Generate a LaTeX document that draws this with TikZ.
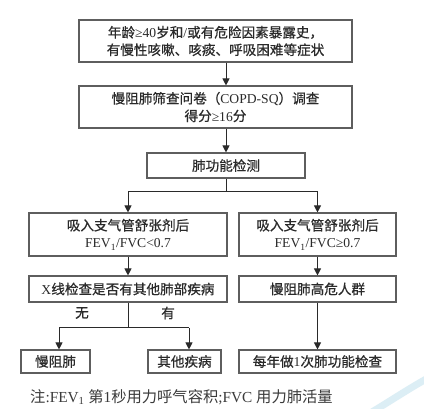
\documentclass[tikz,border=0pt]{standalone}
\usepackage{fontspec}
\setmainfont{Liberation Serif}
\newfontfamily\zhfont[FakeBold=0.6]{Noto Sans CJK SC}
\newfontfamily\zhnote{Noto Sans CJK SC}
\usetikzlibrary{arrows.meta}
\newcommand{\zh}[1]{{\zhfont #1}}
\newcommand{\zn}[1]{{\zhnote #1}}
\definecolor{boxline}{HTML}{5E5E5E}
\definecolor{txt}{HTML}{2A2A2A}
\definecolor{notetxt}{HTML}{3A3A3A}
\definecolor{swoosh}{HTML}{DCEEF5}
\begin{document}
\begin{tikzpicture}[x=1pt,y=-1pt,
  box/.style={draw=boxline, line width=1.1pt, fill=white, inner sep=0pt, align=center,
    text=txt, font=\fontsize{13.6}{17.5}\selectfont},
  conn/.style={draw=txt, line width=1pt},
  arr/.style={conn, -{Triangle[width=7pt,length=7pt]}},
  lbl/.style={text=txt, font=\fontsize{13.6}{15}\selectfont\zhfont, inner sep=0pt}]
\useasboundingbox (0,0) rectangle (424,409);
\fill[white] (0,0) rectangle (424,409);
% faint swoosh
\draw[swoosh, line width=7pt, line cap=round] (372,412) .. controls (395,398) and (410,388) .. (428,378);

\node[box, minimum width=273pt, minimum height=42pt] (b1) at (215.5,41)
  {\zh{年龄}≥40\zh{岁和}/\zh{或有危险因素暴露史，}\\ \zh{有慢性咳嗽、咳痰、呼吸困难等症状}};
\node[box, minimum width=273pt, minimum height=42pt] (b2) at (215.5,107)
  {\zh{慢阻肺筛查问卷（}COPD-SQ\zh{）调查}\\ \zh{得分}≥16\zh{分}};
\node[box, minimum width=158pt, minimum height=25pt] (b3) at (226,165.5)
  {\zh{肺功能检测}};
\node[box, minimum width=198pt, minimum height=43pt] (b4l) at (128,234.5)
  {\zh{吸入支气管舒张剂后}\\ FEV\textsubscript{1}/FVC<0.7};
\node[box, minimum width=157pt, minimum height=43pt] (b4r) at (317.5,234.5)
  {\zh{吸入支气管舒张剂后}\\ FEV\textsubscript{1}/FVC≥0.7};
\node[box, minimum width=198pt, minimum height=26pt] (b5l) at (128,289)
  {X\zh{线检查是否有其他肺部疾病}};
\node[box, minimum width=157pt, minimum height=26pt] (b5r) at (317.5,289)
  {\zh{慢阻肺高危人群}};
\node[box, minimum width=69pt, minimum height=23pt] (b6l) at (55.5,361.5)
  {\zh{慢阻肺}};
\node[box, minimum width=73pt, minimum height=23pt] (b6m) at (184.5,361.5)
  {\zh{其他疾病}};
\node[box, minimum width=157pt, minimum height=23pt] (b6r) at (317.5,361.5)
  {\zh{每年做}1\zh{次肺功能检查}};

\node[lbl] (no) at (82,313) {无};
\node[lbl] (yes) at (168,313) {有};

\node[anchor=west, text=notetxt, inner sep=0pt, font=\fontsize{15.3}{17}\selectfont] (note) at (30,397)
  {\zn{注}:FEV\textsubscript{1} \zn{第}1\zn{秒用力呼气容积};FVC \zn{用力肺活量}};

% connectors
\draw[arr] (b1.south -| b3.north) -- (b2.north -| b3.north);
\draw[arr] (b2.south -| b3.north) -- (b3.north);
\coordinate (s) at (226,192);
\draw[conn] (b3.south) -- (s);
\draw[conn] (s -| b4l.north) -- (s -| b4r.north);
\draw[arr] (s -| b4l.north) -- (b4l.north);
\draw[arr] (s -| b4r.north) -- (b4r.north);
\draw[arr] (b4l.south) -- (b5l.north);
\draw[arr] (b4r.south) -- (b5r.north);
\coordinate (j) at (128,328);
\coordinate (jl) at (59,328);
\coordinate (jr) at (189,328);
\draw[conn] (b5l.south) -- (j);
\draw[conn] (jl) -- (jr);
\draw[arr] (jl) -- (jl |- b6l.north);
\draw[arr] (jr) -- (jr |- b6m.north);
\draw[arr] (b5r.south) -- (b6r.north);
\end{tikzpicture}
\end{document}
